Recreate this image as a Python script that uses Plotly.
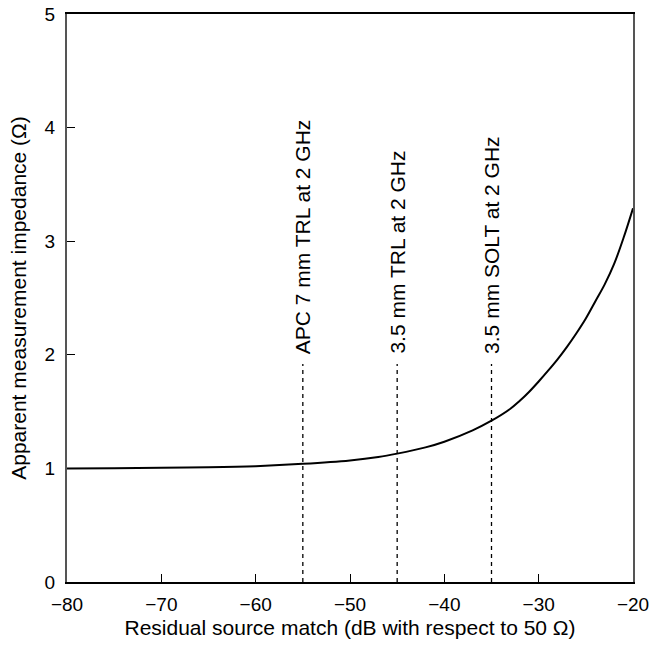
import plotly.graph_objects as go

# Residual source match (dB) and apparent measured impedance (ohm)
match_db = [-80, -75, -70, -65, -60, -55, -50, -47, -45, -42, -40, -37, -35, -33, -32,
            -31, -30, -29, -28, -27, -26, -25, -24, -23, -22, -21, -20]
impedance = [1.00, 1.002, 1.005, 1.01, 1.02, 1.04, 1.07, 1.10, 1.13, 1.185, 1.235, 1.335, 1.42,
             1.525, 1.595, 1.675, 1.765, 1.86, 1.96, 2.07, 2.19, 2.32, 2.47, 2.62, 2.80, 3.03, 3.29]

# Calibration markers
marker_db = [-55, -45, -35]
marker_labels = ["APC 7 mm TRL at 2 GHz", "3.5 mm TRL at 2 GHz", "3.5 mm SOLT at 2 GHz"]
marker_top = 1.92

x_ticks = [-80, -70, -60, -50, -40, -30, -20]
y_ticks = [0, 1, 2, 3, 4, 5]

FONT = "Liberation Sans, Arial, sans-serif"

fig = go.Figure()

for xv in marker_db:
    fig.add_trace(go.Scatter(
        x=[xv, xv], y=[0, marker_top], mode="lines",
        line=dict(color="black", width=1.3, dash="4px,4px"),
        hoverinfo="skip", showlegend=False,
    ))

fig.add_trace(go.Scatter(
    x=match_db, y=impedance, mode="lines",
    line=dict(color="black", width=2, shape="spline", smoothing=1.0),
    showlegend=False,
))

for xv, label in zip(marker_db, marker_labels):
    fig.add_annotation(
        x=xv, y=marker_top, text=label, showarrow=False,
        textangle=-90, xanchor="center", yanchor="bottom", yshift=8,
        font=dict(family=FONT, size=21, color="black"),
    )

fig.update_layout(
    width=652, height=646,
    margin=dict(l=67, r=19, t=14, b=64),
    paper_bgcolor="white", plot_bgcolor="white",
    font=dict(family=FONT, size=19, color="black"),
    xaxis=dict(
        range=[-80, -20], tickvals=x_ticks, ticks="inside", ticklen=8,
        tickwidth=1, tickcolor="black", showgrid=False, zeroline=False,
        showline=True, linecolor="black", linewidth=1.5, mirror=True,
        ticklabelstandoff=4, automargin=False,
        title=dict(text="Residual source match (dB with respect to 50 Ω)",
                   font=dict(size=21), standoff=7),
    ),
    yaxis=dict(
        range=[0, 5], tickvals=y_ticks, ticks="inside", ticklen=8,
        tickwidth=1, tickcolor="black", showgrid=False, zeroline=False,
        showline=True, linecolor="#555", linewidth=2, mirror=True,
        ticklabelstandoff=6, automargin=False,
        title=dict(text="Apparent measurement impedance (Ω)",
                   font=dict(size=21), standoff=12),
    ),
)

fig.write_html("out.html")
